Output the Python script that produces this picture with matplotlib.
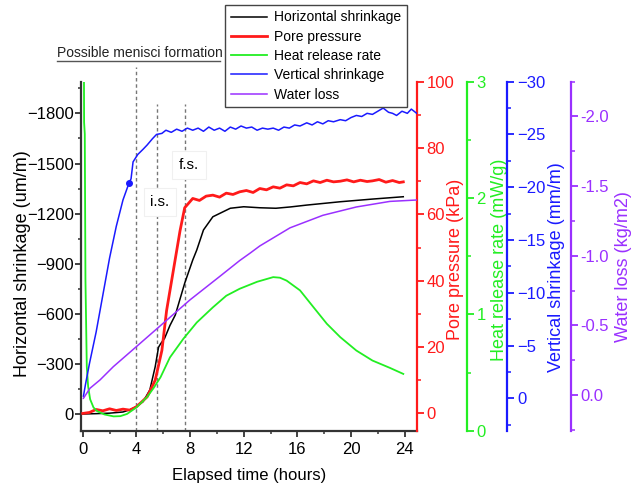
import matplotlib
matplotlib.use("Agg")
import matplotlib.pyplot as plt
from matplotlib.ticker import MultipleLocator, FormatStrFormatter
from matplotlib.lines import Line2D

plt.rcParams['font.family'] = ['Liberation Sans', 'DejaVu Sans']

# ---- data (time in hours) ----
hs_t = [0, 1, 2, 3, 3.5, 4.0, 4.5, 5.0, 5.4, 5.65, 5.8, 6.1, 6.5, 6.9, 7.6, 8.2,
        8.5, 9.0, 9.7, 11.0, 12.0, 13.2, 14.4, 15.5, 16.7, 19.2, 21.6, 23.9]
hs_val = [0, -2, -5, -12, -25, -44, -74, -144, -283, -400, -420, -453, -530, -593,
          -783, -922, -982, -1102, -1181, -1232, -1241, -1235, -1232, -1240, -1251,
          -1271, -1287, -1301]

pp_t = [0, 0.5, 1.0, 1.5, 2.0, 2.5, 3.0, 3.5, 4.0, 4.8, 5.4, 5.9, 6.25, 6.75, 7.0,
        7.25, 7.6, 8.2, 8.7, 9.2, 9.7, 10.2, 10.7, 11.2, 11.7, 12.2, 12.7, 13.2,
        13.7, 14.2, 14.7, 15.2, 15.7, 16.2, 16.7, 17.2, 17.7, 18.2, 18.7, 19.2,
        19.7, 20.2, 20.7, 21.2, 21.6, 22.1, 22.6, 23.1, 23.6, 23.9]
pp_val = [0, 0.3, 1.2, 0.8, 1.4, 0.9, 1.3, 1.0, 2.0, 5, 10, 19, 31, 43, 49,
          55, 62, 64.8, 64.2, 65.5, 65.8, 65.2, 66.4, 66.0, 66.8, 67.2, 66.6, 67.8,
          67.4, 68.3, 67.9, 68.9, 68.6, 69.6, 69.2, 70.1, 69.6, 70.3, 69.8, 70.0,
          70.4, 69.8, 70.3, 69.9, 70.1, 70.5, 69.7, 70.2, 69.6, 69.8]

hr_t = [0.08, 0.1, 0.15, 0.2, 0.3, 0.4, 0.55, 0.8, 1.04, 1.6, 2.3, 2.8, 3.3, 4.0,
        4.8, 5.3, 5.8, 6.5, 7.5, 8.5, 9.7, 10.7, 11.7, 13.0, 14.2, 14.7, 15.2,
        16.2, 17.2, 18.2, 19.2, 20.4, 21.6, 22.9, 23.9]
hr_val = [3.4, 2.65, 2.55, 1.3, 0.55, 0.38, 0.27, 0.2, 0.17, 0.14, 0.123, 0.125,
          0.144, 0.2, 0.29, 0.37, 0.46, 0.63, 0.79, 0.93, 1.06, 1.16, 1.22, 1.28,
          1.32, 1.315, 1.29, 1.206, 1.062, 0.919, 0.804, 0.689, 0.603, 0.54, 0.488]

vs_t = [0.05, 0.2, 0.5, 1.0, 1.5, 2.0, 2.5, 3.0, 3.45, 3.6, 3.75, 4.1, 4.5, 4.8,
        5.2, 5.5, 5.9, 6.2, 6.6, 7.0, 7.4, 7.8, 8.2, 8.6, 9.0, 9.4, 9.8, 10.2,
        10.6, 11.0, 11.4, 11.8, 12.2, 12.6, 13.0, 13.4, 13.8, 14.2, 14.6, 15.0,
        15.4, 15.8, 16.2, 16.7, 17.1, 17.5, 17.9, 18.3, 18.7, 19.2, 19.6, 20.0,
        20.4, 20.8, 21.2, 21.6, 22.0, 22.4, 22.8, 23.1, 23.4, 23.8, 24.2, 24.5, 24.9]
vs_val = [-0.2, -1.3, -3.3, -6.3, -9.8, -13.3, -16.3, -18.8, -20.4, -20.8, -22.4,
          -23.1, -23.6, -24.0, -24.6, -25.0, -25.1, -25.4, -25.2, -25.5, -25.3,
          -25.6, -25.4, -25.6, -25.3, -25.7, -25.4, -25.6, -25.3, -25.7, -25.5,
          -25.8, -25.6, -25.7, -25.4, -25.6, -25.5, -25.6, -25.4, -25.7, -25.6,
          -25.9, -25.8, -26.1, -25.9, -26.2, -26.0, -26.3, -26.2, -26.4, -26.3,
          -26.6, -26.8, -26.7, -27.0, -26.9, -27.2, -27.5, -27.1, -27.0, -26.8,
          -27.2, -27.0, -27.4, -27.0]
vs_mark_t = [3.45]
vs_mark_val = [-20.4]

wl_t = [0.05, 0.54, 1.29, 2.28, 4.0, 6.0, 8.0, 10.2, 11.7, 12.5, 13.2, 15.45,
        17.9, 20.4, 22.9, 24.9]
wl_val = [0.024, -0.048, -0.108, -0.203, -0.347, -0.515, -0.683, -0.85, -0.965,
          -1.02, -1.07, -1.2, -1.29, -1.35, -1.39, -1.40]

stage_times = [4.0, 5.56, 7.6]
stage_tops = [1.043, 0.936, 0.936]
stage_labels = ['i.s.', 'f.s.']
stage_label_t = [5.76, 7.92]
stage_label_val = [-1269, -1491]

c_red = '#ff1a1a'
c_green = '#22ee22'
c_blue = '#1a1aff'
c_purple = '#9a30ff'
fs_tick = 12
fs_label = 13

fig = plt.figure(figsize=(6.4, 4.92), dpi=100)
ax = fig.add_axes([0.1266, 0.1246, 0.5245, 0.7094])
ax_pp = ax.twinx()
ax_hr = ax.twinx()
ax_vs = ax.twinx()
ax_wl = ax.twinx()

l1, = ax.plot(hs_t, hs_val, color='black', lw=1.1, label='Horizontal shrinkage')
l2, = ax_pp.plot(pp_t, pp_val, color=c_red, lw=2.0, label='Pore pressure')
l3, = ax_hr.plot(hr_t, hr_val, color=c_green, lw=1.3, label='Heat release rate')
l4, = ax_vs.plot(vs_t, vs_val, color=c_blue, lw=1.1, label='Vertical shrinkage')
ax_vs.plot(vs_mark_t, vs_mark_val, 'o', color=c_blue, ms=4)
l5, = ax_wl.plot(wl_t, wl_val, color=c_purple, lw=1.1, label='Water loss')

ax.set_xlim(-0.13, 24.9)
ax.set_ylim(100, -1990)
ax_pp.set_ylim(-5.2, 100)
ax_hr.set_ylim(0, 3)
ax_vs.set_ylim(3.07, -30)
ax_wl.set_ylim(0.257, -2.25)

ax.xaxis.set_major_locator(MultipleLocator(4))
ax.xaxis.set_minor_locator(MultipleLocator(2))
ax.yaxis.set_major_locator(MultipleLocator(300))
ax.yaxis.set_minor_locator(MultipleLocator(150))
ax_pp.yaxis.set_major_locator(MultipleLocator(20))
ax_pp.yaxis.set_minor_locator(MultipleLocator(10))
ax_hr.yaxis.set_major_locator(MultipleLocator(1))
ax_hr.yaxis.set_minor_locator(MultipleLocator(0.5))
ax_vs.yaxis.set_major_locator(MultipleLocator(5))
ax_vs.yaxis.set_minor_locator(MultipleLocator(2.5))
ax_wl.yaxis.set_major_locator(MultipleLocator(0.5))
ax_wl.yaxis.set_minor_locator(MultipleLocator(0.25))
ax_wl.yaxis.set_major_formatter(FormatStrFormatter('%.1f'))

for s in ['top', 'right']:
    ax.spines[s].set_visible(False)
for s in ['left', 'bottom']:
    ax.spines[s].set_color('#333333')
    ax.spines[s].set_linewidth(1.6)
ax.tick_params(which='major', length=4, width=1.3, labelsize=fs_tick, pad=1, color='#333333')
ax.tick_params(which='minor', length=2.5, width=1.1, color='#333333')
ax.tick_params(axis='x', pad=4)

twins = [(ax_pp, c_red, 1.0, 'Pore pressure (kPa)', 1.090, 0.49),
         (ax_hr, c_green, 1.149, 'Heat release rate (mW/g)', 1.220, 0.49),
         (ax_vs, c_blue, 1.270, 'Vertical shrinkage (mm/m)', 1.392, 0.47),
         (ax_wl, c_purple, 1.459, 'Water loss (kg/m2)', 1.592, 0.47)]
for a, col, pos, lab, lx, ly in twins:
    for s in ['top', 'bottom', 'left']:
        a.spines[s].set_visible(False)
    a.spines['right'].set_position(('axes', pos))
    a.spines['right'].set_color(col)
    a.spines['right'].set_linewidth(1.6)
    a.tick_params(which='major', length=5, width=1.3, color=col, labelcolor=col,
                  labelsize=fs_tick, pad=2)
    a.tick_params(which='minor', length=3, width=1.1, color=col)
    a.set_ylabel(lab, color=col, fontsize=fs_label)
    a.yaxis.set_label_coords(lx, ly)

ax.set_xlabel('Elapsed time (hours)', fontsize=12, labelpad=8)
ax.set_ylabel('Horizontal shrinkage (um/m)', fontsize=fs_label)
ax.yaxis.set_label_coords(-0.15, 0.48)

# stage markers
for t, top in zip(stage_times, stage_tops):
    ax.axvline(t, ymin=0, ymax=top, color='#777777', lw=1.0,
               ls=(0, (2.5, 2)), clip_on=False, zorder=1)
for t, v, s in zip(stage_label_t, stage_label_val, stage_labels):
    ax.text(t, v, s, fontsize=11, ha='center', va='center',
            bbox=dict(boxstyle='square,pad=0.45', fc='white', ec='#f0f0f0', lw=0.8))

# title-like note with underline
fig.text(0.0891, 0.885, 'Possible menisci formation', fontsize=10, ha='left',
         va='baseline', color='#222222')
fig.add_artist(Line2D([0.0891, 0.344], [0.876, 0.876], color='#555555', lw=1.0))

fig.legend(handles=[l1, l2, l3, l4, l5], loc='upper left',
           bbox_to_anchor=(0.352, 0.99), fontsize=10, frameon=True, fancybox=False,
           edgecolor='#444444', framealpha=1, borderaxespad=0, handlelength=2.6,
           labelspacing=0.38, borderpad=0.4, handletextpad=0.5)

fig.savefig('out.png', dpi=100)
